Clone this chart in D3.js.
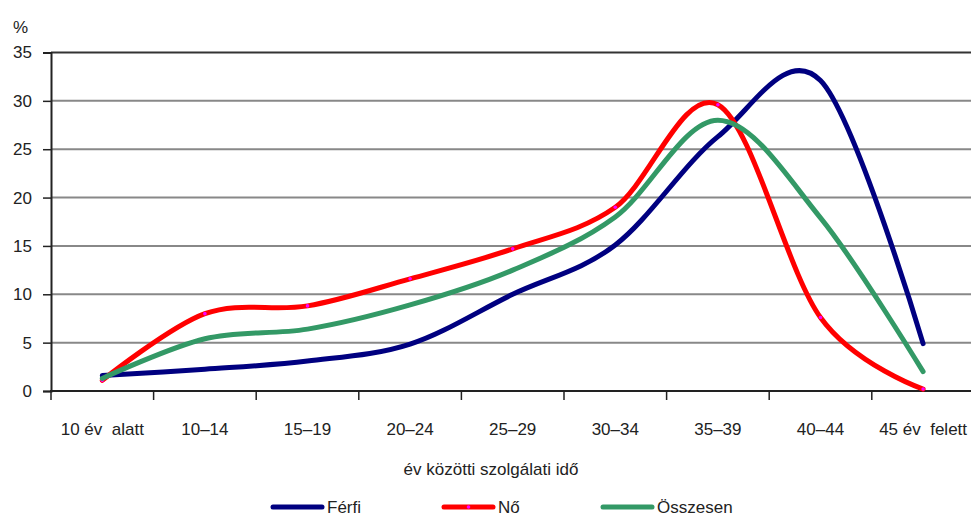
<!DOCTYPE html>
<html>
<head>
<meta charset="utf-8">
<script src="https://cdn.jsdelivr.net/npm/d3@7"></script>
<style>
	body { margin: 0; background: #fff; }
	text { font-family: "Liberation Sans", Arial, sans-serif; fill: #222; }
</style>
</head>
<body>
<svg id="chart" width="971" height="518"></svg>
<script>
// szolgálati idő kategóriák
const categories = ['10 év  alatt', '10–14', '15–19', '20–24', '25–29', '30–34', '35–39', '40–44', '45 év  felett'];
const ferfi = [1.6, 2.25, 3.1, 4.85, 10.0, 15.1, 26.3, 32.1, 4.9];
const no = [1.1, 8.0, 8.8, 11.6, 14.7, 19.0, 29.6, 7.6, 0.2];
const osszesen = [1.3, 5.4, 6.4, 8.9, 12.5, 18.0, 28.0, 17.9, 2.0];
const yTicks = [0, 5, 10, 15, 20, 25, 30, 35];

const series = [
	{ name: 'Férfi', values: ferfi, color: '#000080' },
	{ name: 'Nő', values: no, color: '#ff0000', marker: '#ff00ff' },
	{ name: 'Összesen', values: osszesen, color: '#339966' },
];

const svg = d3.select('#chart');

const x = d3.scaleBand().domain(categories).range([51, 974.4]);
const y = d3.scaleLinear().domain([0, 35]).range([391, 52.5]);
const cx = c => x(c) + x.bandwidth() / 2;

// gridlines
svg.append('g')
	.selectAll('line')
	.data(yTicks.filter(t => t > 0 && t < 35))
	.enter().append('line')
		.attr('x1', 51).attr('x2', 971)
		.attr('y1', d => y(d)).attr('y2', d => y(d))
		.attr('stroke', '#888').attr('stroke-width', 2);

// top border
svg.append('line')
	.attr('x1', 51).attr('x2', 971)
	.attr('y1', y(35)).attr('y2', y(35))
	.attr('stroke', '#333').attr('stroke-width', 2);

// y axis
const yAxis = svg.append('g')
	.attr('transform', 'translate(51,0)')
	.call(d3.axisLeft(y).tickValues(yTicks).tickSize(8).tickPadding(11));
yAxis.select('.domain').attr('stroke', '#222').attr('stroke-width', 2);
yAxis.selectAll('.tick line').attr('stroke', '#222').attr('stroke-width', 1.5);
yAxis.selectAll('.tick text')
	.attr('font-size', 17)
	.attr('font-family', '"Liberation Sans", Arial, sans-serif')
	.attr('fill', '#222');

svg.append('text')
	.attr('x', 13).attr('y', 33)
	.attr('font-size', 17)
	.text('%');

// x axis
svg.append('line')
	.attr('x1', 50).attr('x2', 971)
	.attr('y1', y(0)).attr('y2', y(0))
	.attr('stroke', '#222').attr('stroke-width', 2);

const edges = categories.map(c => x(c)).concat([x.range()[1]]);
svg.append('g')
	.selectAll('line')
	.data(edges)
	.enter().append('line')
		.attr('x1', d => d).attr('x2', d => d)
		.attr('y1', y(0)).attr('y2', y(0) + 9)
		.attr('stroke', '#222').attr('stroke-width', 1.5);

svg.append('g')
	.selectAll('text')
	.data(categories)
	.enter().append('text')
		.attr('x', d => cx(d))
		.attr('y', 435)
		.attr('text-anchor', 'middle')
		.attr('font-size', 17)
		.style('white-space', 'pre')
		.text(d => d);

svg.append('text')
	.attr('x', 491).attr('y', 475)
	.attr('text-anchor', 'middle')
	.attr('font-size', 17)
	.text('év közötti szolgálati idő');

// lines
const line = d3.line()
	.x((d, i) => cx(categories[i]))
	.y(d => y(d))
	.curve(d3.curveCardinal.tension(0));

for (const s of series) {
	svg.append('path')
		.attr('d', line(s.values))
		.attr('fill', 'none')
		.attr('stroke', s.color)
		.attr('stroke-width', 5)
		.attr('stroke-linejoin', 'round')
		.attr('stroke-linecap', 'round');
	if (s.marker) {
		svg.append('g')
			.selectAll('circle')
			.data(s.values)
			.enter().append('circle')
				.attr('cx', (d, i) => cx(categories[i]))
				.attr('cy', d => y(d))
				.attr('r', 1.8)
				.attr('fill', s.marker);
	}
}

// legend
const legendX = [273, 444, 603];
const legend = svg.append('g')
	.selectAll('g')
	.data(series)
	.enter().append('g')
		.attr('transform', (d, i) => `translate(${legendX[i]},507)`);
legend.append('line')
	.attr('x1', 0).attr('x2', 49)
	.attr('stroke', d => d.color)
	.attr('stroke-width', 5)
	.attr('stroke-linecap', 'round');
legend.filter(d => d.marker).append('circle')
	.attr('cx', 24.5).attr('r', 1.8)
	.attr('fill', d => d.marker);
legend.append('text')
	.attr('x', 54).attr('y', 6)
	.attr('font-size', 17)
	.text(d => d.name);
</script>
</body>
</html>
